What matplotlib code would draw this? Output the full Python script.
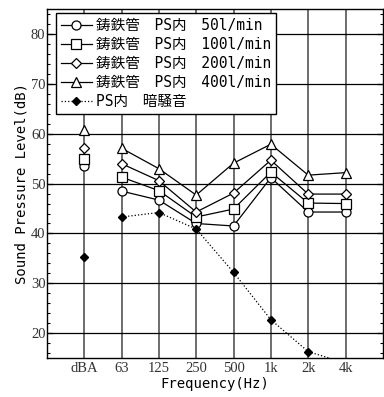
import matplotlib
matplotlib.use("Agg")
import matplotlib.pyplot as plt
from matplotlib.ticker import MultipleLocator

# frequency bands (dBA is the overall value, drawn as a lone point)
categories = ['dBA', '63', '125', '250', '500', '1k', '2k', '4k']

# cast iron pipe inside PS, by flow rate
flow50 = [53.6, 48.5, 46.7, 42.0, 41.5, 51.2, 44.3, 44.3]
flow100 = [54.9, 51.3, 48.6, 43.3, 44.9, 52.3, 46.1, 46.0]
flow200 = [57.2, 54.0, 50.6, 44.3, 48.1, 54.7, 47.9, 47.9]
flow400 = [60.8, 57.1, 53.0, 47.7, 54.1, 57.9, 51.7, 52.2]
# background noise inside PS
dark = [35.3, 43.3, 44.2, 40.9, 32.2, 22.7, 16.3, 14.0]

labels = ['鋳鉄管\u3000PS内\u300050l/min',
          '鋳鉄管\u3000PS内\u3000100l/min',
          '鋳鉄管\u3000PS内\u3000200l/min',
          '鋳鉄管\u3000PS内\u3000400l/min']
markers = ['o', 's', 'D', '^']
msizes = [6.5, 6.5, 5, 6.5]
dark_label = 'PS内\u3000暗騒音'

mono = ['DejaVu Sans Mono', 'Noto Sans CJK JP']

fig = plt.figure(figsize=(3.84, 3.97), dpi=100)
ax = fig.add_axes([0.122, 0.098, 0.875, 0.879])

x = list(range(1, len(categories) + 1))

handles = []
for vals, m, ms, lab in zip([flow50, flow100, flow200, flow400], markers, msizes, labels):
    # lone dBA point
    ax.plot(x[:1], vals[:1], linestyle='none', marker=m, ms=ms, mfc='white',
            mec='black', mew=0.9, zorder=4)
    h, = ax.plot(x[1:], vals[1:], color='black', lw=0.9, marker=m, ms=ms,
                 mfc='white', mec='black', mew=0.9, zorder=4, label=lab)
    handles.append(h)

ax.plot(x[:1], dark[:1], linestyle='none', marker='D', ms=4.5, color='black', zorder=5)
h, = ax.plot(x[1:], dark[1:], color='black', lw=0.9, ls=':', marker='D', ms=4.5,
             mfc='black', mec='black', zorder=5, label=dark_label)
handles.append(h)

ax.set_xlim(0, 9)
ax.set_ylim(15, 85)
ax.set_xticks(x)
ax.set_xticklabels(categories, family='Liberation Serif', fontsize=10.5, color='#333333')
ax.yaxis.set_major_locator(MultipleLocator(10))
ax.yaxis.set_minor_locator(MultipleLocator(2))
ax.set_yticks(range(20, 90, 10))
for t in ax.get_yticklabels():
    t.set_family('Liberation Serif')
    t.set_fontsize(10.5)
    t.set_color('#333333')

ax.tick_params(axis='x', length=0, pad=3)
ax.tick_params(axis='y', which='both', direction='in', left=True, right=True, pad=1)
ax.tick_params(axis='y', which='major', length=4, width=0.9)
ax.tick_params(axis='y', which='minor', length=2.5, width=0.8)

for xv in x:
    ax.axvline(xv, color='#555555', lw=1.2, zorder=1)
for yv in range(20, 90, 10):
    ax.axhline(yv, color='black', lw=0.9, zorder=1)

for s in ax.spines.values():
    s.set_linewidth(1.0)

ax.set_xlabel('Frequency(Hz)', family=mono, fontsize=10, labelpad=1)
ax.set_ylabel('Sound Pressure Level(dB)', family=mono, fontsize=10, labelpad=2)

leg = ax.legend(handles=handles, loc='upper left', bbox_to_anchor=(0.027, 0.989),
                prop={'family': mono, 'size': 10.5},
                frameon=True, fancybox=False, framealpha=1, edgecolor='black',
                borderaxespad=0, borderpad=0.35, labelspacing=0.27,
                handlelength=2.1, handletextpad=0.3)
leg.get_frame().set_linewidth(1.0)
leg.set_zorder(10)

fig.savefig('out.png', dpi=100)
